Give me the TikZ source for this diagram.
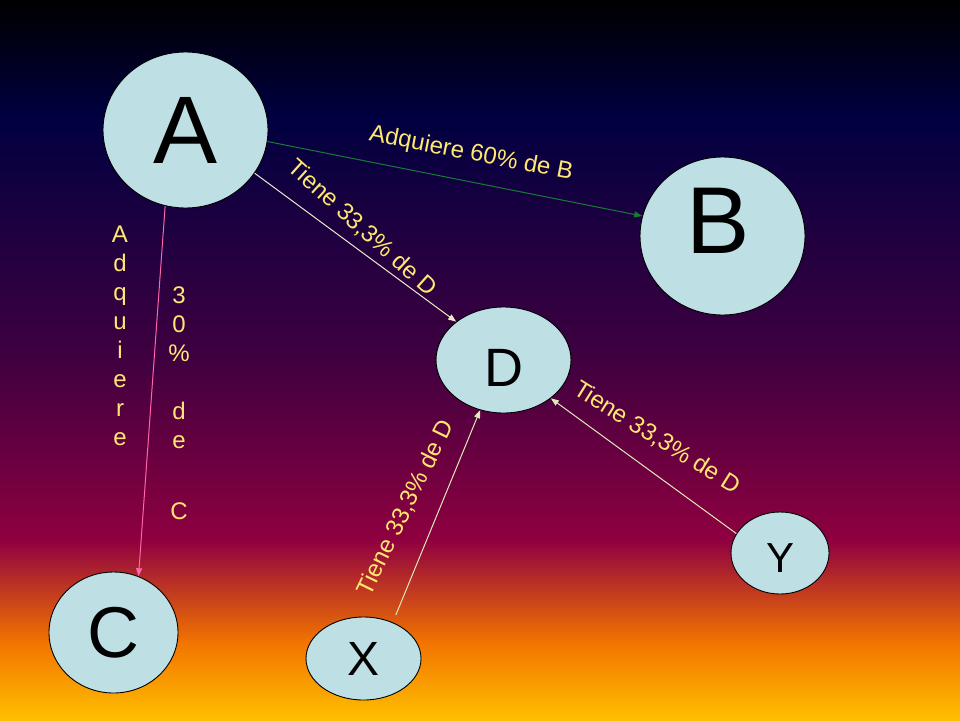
\documentclass[tikz,border=0pt]{standalone}
\usepackage{fontspec}
\setmainfont{Liberation Sans}
\usetikzlibrary{shapes.geometric,arrows.meta}
\definecolor{bgzero}{RGB}{0,0,0}
\definecolor{bgone}{RGB}{0,0,64}
\definecolor{bgtwo}{RGB}{64,0,64}
\definecolor{bgthree}{RGB}{143,0,64}
\definecolor{bgfour}{RGB}{242,115,0}
\definecolor{bgfive}{RGB}{255,191,0}
\definecolor{nodefill}{RGB}{190,224,229}
\definecolor{labelyellow}{RGB}{255,232,112}
\definecolor{edgegreen}{RGB}{20,125,50}
\definecolor{edgepink}{RGB}{255,102,170}
\definecolor{edgecream}{RGB}{236,235,200}
\definecolor{edgelime}{RGB}{222,236,184}
\begin{document}
\begin{tikzpicture}[x=1pt,y=-1pt,
  bubble/.style={ellipse, draw=black, line width=0.9pt, fill=nodefill, inner sep=0pt, text=black},
  lbl/.style={text=labelyellow, font=\fontsize{24}{28.9}\selectfont, inner sep=0pt},
  conn/.style={line width=1pt, -{Triangle[length=8pt,width=6pt]}},
]
\useasboundingbox (0,0) rectangle (960,720);
% background gradient (Late Sunset)
\shade[top color=bgzero,bottom color=bgone] (0,0) rectangle (960,116);
\shade[top color=bgone,bottom color=bgtwo] (0,115) rectangle (960,361);
\shade[top color=bgtwo,bottom color=bgthree] (0,360) rectangle (960,541);
\shade[top color=bgthree,bottom color=bgfour] (0,540) rectangle (960,642);
\shade[top color=bgfour,bottom color=bgfive] (0,641) rectangle (960,720);

% nodes
\node[bubble, minimum width=165pt, minimum height=156pt, font=\fontsize{96}{96}\selectfont] (A) at (185.5,130) {A};
\node[bubble, minimum width=165pt, minimum height=158pt, font=\fontsize{95}{95}\selectfont, text height=68pt, text depth=34pt] (B) at (722.5,236) {\hspace*{-8pt}B};
\node[bubble, minimum width=135pt, minimum height=106pt, font=\fontsize{54}{54}\selectfont, text height=52.7pt, text depth=0pt] (D) at (503.5,360) {D};
\node[bubble, minimum width=129pt, minimum height=121pt, font=\fontsize{72}{72}\selectfont] (C) at (113.5,632.5) {C};
\node[bubble, minimum width=115pt, minimum height=83pt, font=\fontsize{48}{48}\selectfont] (X) at (363.5,658.5) {X};
\node[bubble, minimum width=98pt, minimum height=82pt, font=\fontsize{42}{42}\selectfont, text height=38pt, text depth=0pt] (Y) at (780,553) {Y};

% connectors
\draw[conn, edgegreen] (A.-8.3) -- (B.166.4);
\draw[conn, edgecream] (A.-32.4) -- (D.141.9);
\draw[conn, edgepink] (A.-105.7) -- (C.66.3);
\draw[conn, edgelime, shorten <=8pt] (X.51.6) -- (D.-115.2);
\draw[conn, edgelime] (Y.156) -- (D.-39.3);

% labels
\node[lbl, rotate=-11] (lAB) at (471,154) {Adquiere 60\% de B};
\node[lbl, rotate=-42] (lAD) at (362,228) {Tiene 33,3\% de D};
\node[lbl, rotate=64] (lXD) at (406,508) {Tiene 33,3\% de D};
\node[lbl, rotate=-32] (lYD) at (657,438) {Tiene 33,3\% de D};
\node[lbl, align=center, anchor=north] (lACa) at (120,226) {A\\d\\q\\u\\i\\e\\r\\e};
\node[lbl, align=center, anchor=north] (lACb) at (179,287) {3\\0\\\%\\[29pt]d\\e\\[42pt]C};
\end{tikzpicture}
\end{document}
